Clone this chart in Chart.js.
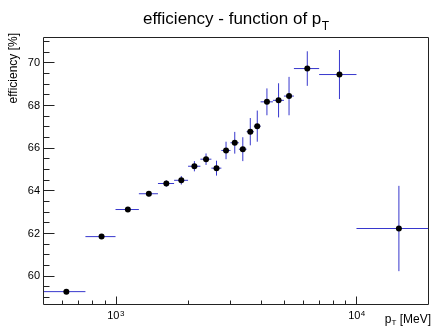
<!DOCTYPE html>
<html>
<head>
<meta charset="utf-8">
<script src="https://cdn.jsdelivr.net/npm/chart.js@4/dist/chart.umd.min.js"></script>
<style>
html,body{margin:0;padding:0;background:#fff;}
#c{display:block;}
</style>
</head>
<body>
<canvas id="c" width="432" height="327"></canvas>
<script>
// ---- data ----
const ptCenter = [625,875,1125,1375,1625,1875,2125,2375,2625,2875,3125,3375,3625,3875,4250,4750,5250,6250,8500,15000];
const ptLow    = [500,750,1000,1250,1500,1750,2000,2250,2500,2750,3000,3250,3500,3750,4000,4500,5000,5500,7000,10000];
const ptHigh   = [750,1000,1250,1500,1750,2000,2250,2500,2750,3000,3250,3500,3750,4000,4500,5000,5500,7000,10000,20000];
const efficiency = [59.25,61.83,63.10,63.84,64.32,64.47,65.13,65.46,65.04,65.87,66.23,65.93,66.75,67.01,68.15,68.22,68.42,69.71,69.43,62.21];
const effErr     = [0.08,0.09,0.10,0.12,0.15,0.20,0.24,0.27,0.35,0.41,0.51,0.56,0.64,0.73,0.63,0.80,0.90,0.81,1.15,2.00];

const yMajorTicks = [60,62,64,66,68,70];
const yMinorTicks = [59,59.5,60.5,61,61.5,62.5,63,63.5,64.5,65,65.5,66.5,67,67.5,68.5,69,69.5,70.5,71];
const xMajorTicks = [1000,10000];
const xMajorLabels = [['10','3'],['10','4']];
const xMinorTicks = [600,700,800,900,2000,3000,4000,5000,6000,7000,8000,9000];

const titleMain = 'efficiency - function of p';
const titleSub = 'T';
const yTitle = 'efficiency [%]';
const xTitleMain = 'p';
const xTitleSub = 'T';
const xTitleRest = ' [MeV]';

const FONT = '"Liberation Sans", Arial, Helvetica, sans-serif';
const ERR_COLOR = 'rgb(55,55,205)';
const AXIS_COLOR = '#222';

const points = ptCenter.map((x,i)=>({x:x, y:efficiency[i]}));

const errorBars = {
  id:'errorBars',
  beforeDatasetsDraw(chart){
    const ctx = chart.ctx, xs = chart.scales.x, ys = chart.scales.y, a = chart.chartArea;
    ctx.save();
    ctx.beginPath();
    ctx.rect(a.left, a.top, a.right-a.left, a.bottom-a.top);
    ctx.clip();
    ctx.strokeStyle = ERR_COLOR;
    ctx.lineWidth = 1;
    for(let i=0;i<ptCenter.length;i++){
      const px = xs.getPixelForValue(ptCenter[i]);
      const py = ys.getPixelForValue(efficiency[i]);
      const x1 = xs.getPixelForValue(ptLow[i]);
      const x2 = xs.getPixelForValue(ptHigh[i]);
      const y1 = ys.getPixelForValue(efficiency[i]-effErr[i]);
      const y2 = ys.getPixelForValue(efficiency[i]+effErr[i]);
      ctx.beginPath();
      ctx.moveTo(x1, py); ctx.lineTo(x2, py);
      ctx.stroke();
      ctx.beginPath();
      ctx.moveTo(px, y1); ctx.lineTo(px, y2);
      ctx.stroke();
    }
    ctx.restore();
  }
};

const frameAxes = {
  id:'frameAxes',
  afterDraw(chart){
    const ctx = chart.ctx, xs = chart.scales.x, ys = chart.scales.y, a = chart.chartArea;
    const L = Math.round(a.left)+0.5, R = Math.round(a.right)-0.5, T = Math.round(a.top)+0.5, B = Math.round(a.bottom)+0.5;
    ctx.save();
    ctx.strokeStyle = AXIS_COLOR;
    ctx.lineWidth = 1;
    ctx.beginPath();
    ctx.rect(L, T, R-L, B-T);
    ctx.stroke();
    // y ticks (inward)
    ctx.beginPath();
    yMajorTicks.forEach(v=>{ const y=Math.round(ys.getPixelForValue(v))+0.5; ctx.moveTo(L,y); ctx.lineTo(L+11,y); });
    yMinorTicks.forEach(v=>{ const y=Math.round(ys.getPixelForValue(v))+0.5; if(y>T&&y<B){ctx.moveTo(L,y); ctx.lineTo(L+6,y);} });
    // x ticks (inward)
    xMajorTicks.forEach(v=>{ const x=Math.round(xs.getPixelForValue(v))+0.5; ctx.moveTo(x,B); ctx.lineTo(x,B-8); });
    xMinorTicks.forEach(v=>{ const x=Math.round(xs.getPixelForValue(v))+0.5; ctx.moveTo(x,B); ctx.lineTo(x,B-4); });
    ctx.stroke();

    ctx.fillStyle = '#000';
    // y tick labels
    ctx.font = '11px '+FONT;
    ctx.textAlign = 'right';
    ctx.textBaseline = 'middle';
    yMajorTicks.forEach(v=>{ ctx.fillText(String(v), 40, ys.getPixelForValue(v)+0.5); });
    // x tick labels 10^n
    ctx.textBaseline = 'alphabetic';
    ctx.textAlign = 'left';
    xMajorTicks.forEach((v,i)=>{
      const x = xs.getPixelForValue(v);
      ctx.font = '11px '+FONT;
      const w1 = ctx.measureText(xMajorLabels[i][0]).width;
      ctx.font = '8px '+FONT;
      const w2 = ctx.measureText(xMajorLabels[i][1]).width;
      const x0 = x - (w1+w2)/2;
      ctx.font = '11px '+FONT;
      ctx.fillText(xMajorLabels[i][0], x0, 318.5);
      ctx.font = '8px '+FONT;
      ctx.fillText(xMajorLabels[i][1], x0+w1+0.5, 315.5);
    });
    // x title, right aligned
    ctx.font = '12px '+FONT;
    const wp = ctx.measureText(xTitleMain).width;
    const wr = ctx.measureText(xTitleRest).width;
    ctx.font = '8px '+FONT;
    const wt = ctx.measureText(xTitleSub).width;
    let xs0 = 431 - (wp+wt+wr);
    ctx.font = '12px '+FONT;
    ctx.fillText(xTitleMain, xs0, 322.5);
    ctx.font = '8px '+FONT;
    ctx.fillText(xTitleSub, xs0+wp, 325);
    ctx.font = '12px '+FONT;
    ctx.fillText(xTitleRest, xs0+wp+wt, 322.5);
    // y title rotated
    ctx.save();
    ctx.translate(17, 33);
    ctx.rotate(-Math.PI/2);
    ctx.font = '12px '+FONT;
    ctx.textAlign = 'right';
    ctx.fillText(yTitle, 0, 0);
    ctx.restore();
    // main title
    ctx.font = '17px '+FONT;
    ctx.textAlign = 'left';
    ctx.fillText(titleMain, 143, 24);
    const wm = ctx.measureText(titleMain).width;
    ctx.font = '12px '+FONT;
    ctx.fillText(titleSub, 143+wm+0.5, 30);
    ctx.restore();
  }
};

new Chart(document.getElementById('c'), {
  type:'scatter',
  data:{ datasets:[{
    data: points,
    pointRadius: 3,
    pointHoverRadius: 3,
    pointBackgroundColor:'#000',
    pointBorderColor:'#000',
    pointBorderWidth:0,
    showLine:false
  }]},
  options:{
    responsive:false,
    devicePixelRatio:1,
    animation:false,
    events:[],
    layout:{ padding:{ left:43, right:1, top:37, bottom:23 } },
    plugins:{ legend:{display:false}, tooltip:{enabled:false}, title:{display:false} },
    scales:{
      x:{ type:'logarithmic', min:500, max:20000, display:false },
      y:{ type:'linear', min:58.67, max:71.19, display:false }
    }
  },
  plugins:[errorBars, frameAxes]
});
</script>
</body>
</html>
